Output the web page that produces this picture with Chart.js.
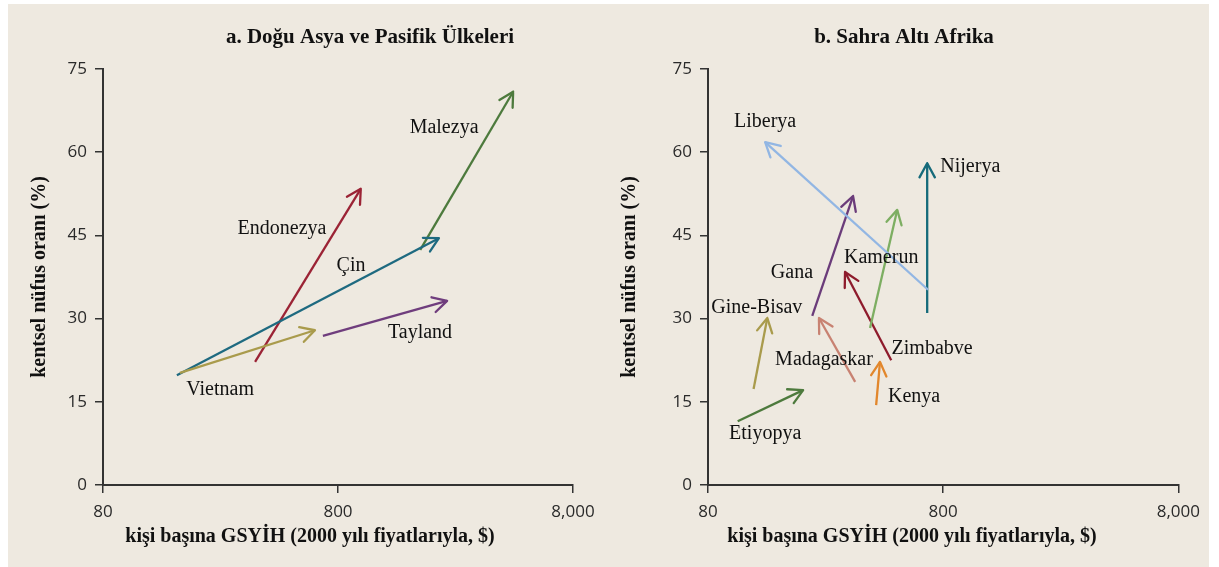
<!DOCTYPE html>
<html>
<head>
<meta charset="utf-8">
<script src="https://cdn.jsdelivr.net/npm/chart.js@4"></script>
<style>
  html, body { margin: 0; padding: 0; background: #fff; }
  #sheet { position: absolute; left: 8px; top: 4px; width: 1201px; height: 563px; background: #eee9e0; }
  canvas { position: absolute; top: 4px; }
  #panelA { left: 8px; }
  #panelB { left: 609px; }
</style>
</head>
<body>
<div id="sheet"></div>
<canvas id="panelA" width="601" height="563"></canvas>
<canvas id="panelB" width="600" height="563"></canvas>
<script>
const xTicks = [80, 800, 8000];
const yTicks = [0, 15, 30, 45, 60, 75];

// a. Doğu Asya ve Pasifik
const asiaNames = ['Vietnam', 'Çin', 'Endonezya', 'Tayland', 'Malezya'];
const asiaGdpFrom = [170, 165, 355, 690, 1790];
const asiaUrbanFrom = [20.2, 19.8, 22.2, 26.9, 42.4];
const asiaGdpTo = [638, 2150, 1000, 2330, 4450];
const asiaUrbanTo = [27.9, 44.5, 53.4, 33.2, 70.9];
const asiaLabelGdp = [252, 909, 462, 1787, 2262];
const asiaLabelUrban = [17.1, 39.5, 46.2, 27.4, 64.4];
const asiaColors = ['#a99b4c', '#1e6a80', '#9b2335', '#6f3d7d', '#4d7a3d'];

// b. Sahra Altı Afrika
const africaNames = ['Liberya', 'Gana', 'Kamerun', 'Nijerya', 'Zimbabve', 'Madagaskar', 'Kenya', 'Gine-Bisav', 'Etiyopya'];
const africaGdpFrom = [690, 222, 391, 684, 481, 338, 415, 125, 107];
const africaUrbanFrom = [35.2, 30.5, 28.3, 31.0, 22.5, 18.6, 14.4, 17.3, 11.5];
const africaGdpTo = [140, 331, 510, 684, 306, 237, 431, 143, 203];
const africaUrbanTo = [61.8, 52.1, 49.6, 58.0, 38.4, 30.1, 22.2, 30.1, 17.1];
const africaLabelGdp = [140, 182, 436, 1043, 718, 249, 602, 129, 140];
const africaLabelUrban = [65.4, 38.2, 40.9, 57.3, 24.5, 22.5, 15.9, 31.9, 9.2];
const africaColors = ['#92b6e3', '#6b3c7a', '#7dae62', '#156a7a', '#8e1b2c', '#c88272', '#e2872c', '#a99b4c', '#4d7a3d'];

const xTitle = 'kişi başına GSYİH (2000 yılı fiyatlarıyla, $)';
const yTitle = 'kentsel nüfus oranı (%)';
const serif = '"Liberation Serif", "DejaVu Serif", serif';
const axisColor = '#333';

Chart.defaults.font.family = '"Open Sans", "Noto Sans", sans-serif';
Chart.defaults.font.size = 17;
Chart.defaults.color = '#2a2a2a';

// open chevron at the end of every arrow
const arrowHeads = {
  id: 'arrowHeads',
  afterDatasetsDraw(chart) {
    const ctx = chart.ctx;
    chart.data.datasets.forEach((ds, i) => {
      const [a, b] = chart.getDatasetMeta(i).data;
      const ang = Math.atan2(b.y - a.y, b.x - a.x);
      ctx.save();
      ctx.strokeStyle = ds.borderColor;
      ctx.lineWidth = 2.3;
      ctx.lineCap = 'round';
      ctx.beginPath();
      [-1, 1].forEach(s => {
        ctx.moveTo(b.x, b.y);
        ctx.lineTo(b.x - 16 * Math.cos(ang + s * 0.5), b.y - 16 * Math.sin(ang + s * 0.5));
      });
      ctx.stroke();
      ctx.restore();
    });
  }
};

// country names, titles
const texts = {
  id: 'texts',
  afterDraw(chart, args, o) {
    const { ctx, chartArea: ca, scales: { x, y } } = chart;
    ctx.save();
    ctx.fillStyle = '#111';
    ctx.textAlign = 'center';
    ctx.textBaseline = 'middle';
    ctx.font = '20px ' + serif;
    o.names.forEach((n, i) => {
      ctx.fillText(n, x.getPixelForValue(o.lx[i]), y.getPixelForValue(o.ly[i]));
    });
    ctx.font = 'bold 21px ' + serif;
    ctx.fillText(o.title, o.titleX, 34);
    ctx.font = 'bold 20px ' + serif;
    ctx.fillText(xTitle, o.xTitleX, 533);
    ctx.translate(o.yTitleX, (ca.top + ca.bottom) / 2);
    ctx.rotate(-Math.PI / 2);
    ctx.fillText(yTitle, 0, 0);
    ctx.restore();
  }
};

function panel(id, p) {
  const datasets = p.names.map((n, i) => ({
    label: n,
    data: [{ x: p.x0[i], y: p.y0[i] }, { x: p.x1[i], y: p.y1[i] }],
    borderColor: p.colors[i],
    borderWidth: 2.3,
    showLine: true,
    pointRadius: 0
  }));
  const grid = { drawOnChartArea: false, drawTicks: true, tickLength: 8, color: axisColor, lineWidth: 1.5 };
  const border = { display: true, color: axisColor, width: 2 };
  return new Chart(document.getElementById(id), {
    type: 'scatter',
    data: { datasets },
    options: {
      responsive: false,
      animation: false,
      layout: { padding: { left: p.left - 40, right: p.width - p.right, top: 65, bottom: 42 } },
      plugins: {
        legend: { display: false },
        tooltip: { enabled: false },
        texts: { names: p.names, lx: p.lx, ly: p.ly, title: p.title, titleX: p.titleX, xTitleX: p.xTitleX, yTitleX: p.yTitleX }
      },
      scales: {
        x: {
          type: 'logarithmic', min: 80, max: 8000,
          afterBuildTicks: s => { s.ticks = xTicks.map(v => ({ value: v })); },
          afterFit: s => { s.height = 40; },
          ticks: { autoSkip: false, maxRotation: 0, padding: 9, callback: v => v.toLocaleString('en-US') },
          grid, border
        },
        y: {
          min: 0, max: 75,
          afterBuildTicks: s => { s.ticks = yTicks.map(v => ({ value: v })); },
          afterFit: s => { s.width = 40; },
          ticks: { padding: 8 },
          grid, border
        }
      }
    },
    plugins: [arrowHeads, texts]
  });
}

panel('panelA', {
  names: asiaNames, x0: asiaGdpFrom, y0: asiaUrbanFrom, x1: asiaGdpTo, y1: asiaUrbanTo,
  lx: asiaLabelGdp, ly: asiaLabelUrban, colors: asiaColors,
  title: 'a. Doğu Asya ve Pasifik Ülkeleri', titleX: 362, xTitleX: 302, yTitleX: 32,
  left: 95, right: 565, width: 601
});
panel('panelB', {
  names: africaNames, x0: africaGdpFrom, y0: africaUrbanFrom, x1: africaGdpTo, y1: africaUrbanTo,
  lx: africaLabelGdp, ly: africaLabelUrban, colors: africaColors,
  title: 'b. Sahra Altı Afrika', titleX: 295, xTitleX: 303, yTitleX: 21,
  left: 99, right: 571, width: 600
});
</script>
</body>
</html>
